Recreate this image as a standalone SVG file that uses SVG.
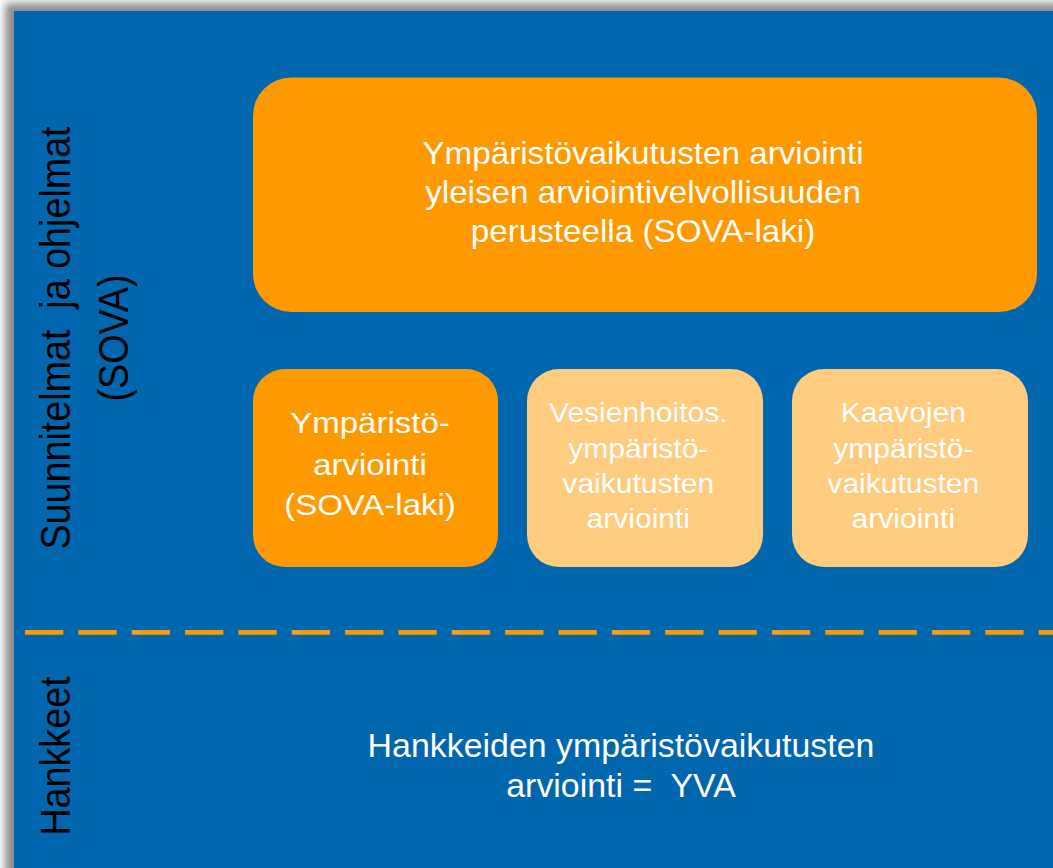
<svg xmlns="http://www.w3.org/2000/svg" width="1053" height="868" viewBox="0 0 1053 868">
<defs>
<filter id="sh" x="-5%" y="-5%" width="110%" height="110%">
<feGaussianBlur stdDeviation="4"/>
</filter>
<style>
.t{font-family:"Liberation Sans",Arial,sans-serif;fill:#ffffff;text-anchor:middle}
.k{font-family:"Liberation Sans",Arial,sans-serif;fill:#000000;text-anchor:middle;font-size:37.7px}
.dark{fill:#ff9900}
.light{fill:#ffcc80}
</style>
</defs>
<rect x="0" y="0" width="1053" height="868" fill="#ffffff"/>
<rect x="5" y="3" width="1080" height="900" fill="#8c8c8c" filter="url(#sh)"/>
<rect id="panel" x="14" y="11" width="1039" height="857" fill="#0066ae"/>

<g id="connectors">
<line x1="25" y1="632.3" x2="1053" y2="632.3" stroke="#ff9900" stroke-width="4.7" stroke-dasharray="38.3 15.05"/>
</g>

<g id="label-sova">
<g transform="translate(70 338) scale(1.11 1) rotate(-90)"><text class="k" x="0" y="0">Suunnitelmat&#160; ja ohjelmat</text></g>
<g transform="translate(128 338) scale(1.11 1) rotate(-90)"><text class="k" x="0" y="0">(SOVA)</text></g>
</g>

<g id="label-hankkeet">
<g transform="translate(70 756) scale(1.11 1) rotate(-90)"><text class="k" x="0" y="0">Hankkeet</text></g>
</g>

<g id="node-general">
<rect class="dark" x="253" y="77.5" width="784" height="234.5" rx="38" ry="38"/>
<g transform="translate(643 0) scale(1.055 1)">
<text class="t" x="0" y="164" font-size="31.5">Ympäristövaikutusten arviointi</text>
<text class="t" x="0" y="203" font-size="31.5">yleisen arviointivelvollisuuden</text>
<text class="t" x="0" y="242" font-size="31.5">perusteella (SOVA-laki)</text>
</g>
</g>

<g id="node-ymparistoarviointi">
<rect class="dark" x="253" y="369" width="245" height="198" rx="32" ry="32"/>
<g transform="translate(370 0) scale(1.1 1)">
<text class="t" x="0" y="433.5" font-size="30">Ympäristö-</text>
<text class="t" x="0" y="475" font-size="30">arviointi</text>
<text class="t" x="0" y="515.5" font-size="30">(SOVA-laki)</text>
</g>
</g>

<g id="node-vesienhoito">
<rect class="light" x="527" y="369" width="236" height="198" rx="32" ry="32"/>
<g transform="translate(638.3 0) scale(1.1 1)">
<text class="t" x="0" y="422.5" font-size="27.3">Vesienhoitos.</text>
<text class="t" x="0" y="458" font-size="27.3">ympäristö-</text>
<text class="t" x="0" y="493" font-size="27.3">vaikutusten</text>
<text class="t" x="0" y="528" font-size="27.3">arviointi</text>
</g>
</g>

<g id="node-kaavat">
<rect class="light" x="792" y="369" width="236" height="198" rx="32" ry="32"/>
<g transform="translate(903.3 0) scale(1.1 1)">
<text class="t" x="0" y="422.5" font-size="27.3">Kaavojen</text>
<text class="t" x="0" y="458" font-size="27.3">ympäristö-</text>
<text class="t" x="0" y="493" font-size="27.3">vaikutusten</text>
<text class="t" x="0" y="528" font-size="27.3">arviointi</text>
</g>
</g>

<g id="node-yva">
<g transform="translate(621 0) scale(1.04 1)">
<text class="t" x="0" y="757.5" font-size="32.6">Hankkeiden ympäristövaikutusten</text>
<text class="t" x="0" y="797.5" font-size="32.6">arviointi =&#160; YVA</text>
</g>
</g>
</svg>
